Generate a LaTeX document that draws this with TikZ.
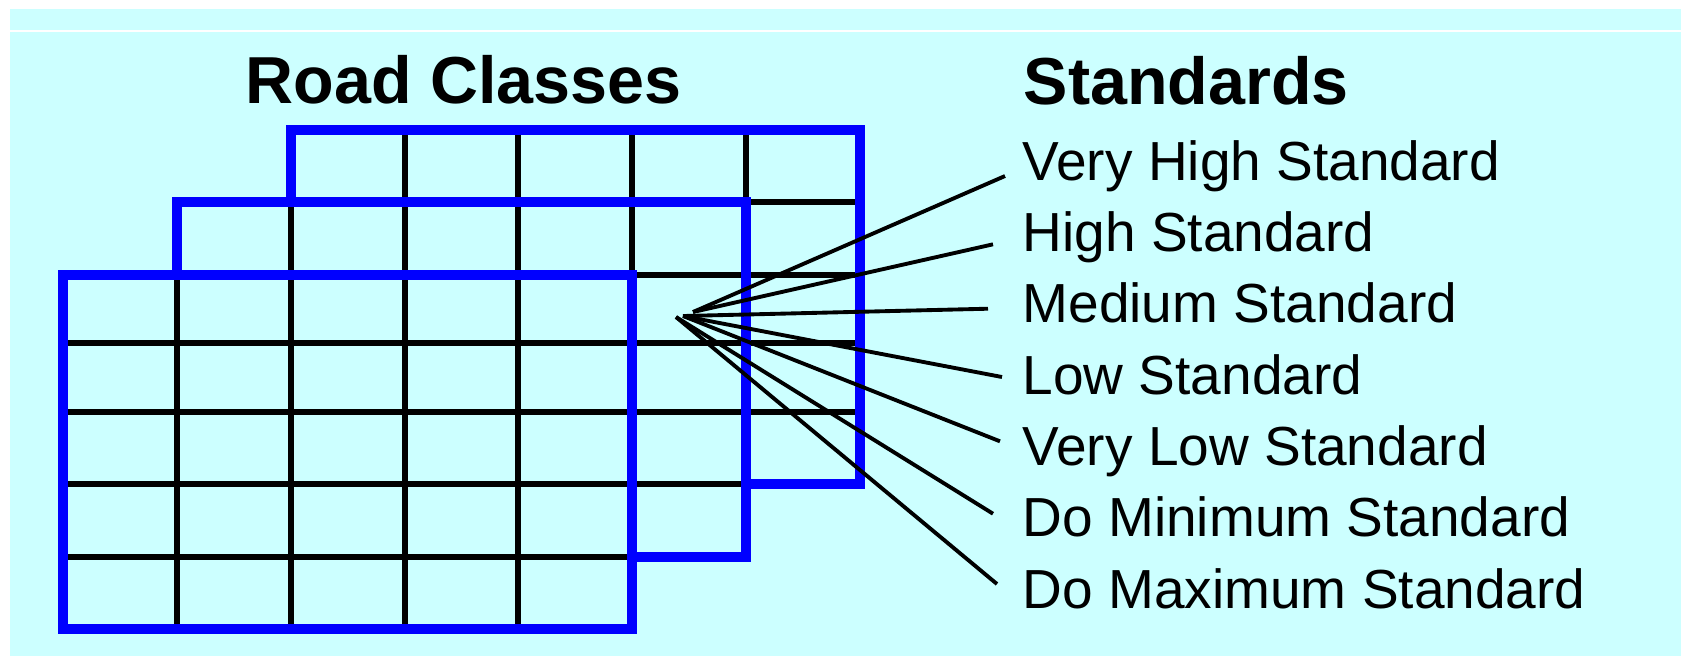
\documentclass[tikz,border=0pt]{standalone}
\usepackage{fontspec}
\setmainfont{Liberation Sans}
\definecolor{SheetCyan}{RGB}{204,255,255}
\definecolor{EdgeBlue} {RGB}{0,  0,  255}

\begin{document}
\begin{tikzpicture}[
  x=0.01cm, y=-0.01cm,
  heading/.style={
    anchor=base west, inner sep=0pt,
    font=\fontsize{18.9}{22}\selectfont\bfseries},
  stdtext/.style={
    anchor=base west, inner sep=0pt,
    font=\fontsize{15.65}{18}\selectfont},
  cellfill/.style={fill=SheetCyan},
  cellline/.style={
    line width=1.85pt, color=black},
  sheetedge/.style={
    draw=EdgeBlue, line width=2.85pt},
  fan/.style={
    line width=1.1pt, color=black}
]

\useasboundingbox (0,0) rectangle (1681,656);
\fill[white] (0,0) rectangle (1681,656);
\fill[SheetCyan] (10,9) rectangle (1681,656);
\draw[white, line width=0.5pt] (10,31) -- (1681,31);

\node[heading] (roads) at (245,103) {Road Classes};
\node[heading] (stds) at (1023,104) {Standards};

\foreach \sx/\sy/\ex/\ey in
  {291/129.5/860/484, 177/202/746/557, 63/275/632/629} {
  \fill[cellfill] (\sx,\sy) rectangle (\ex,\ey);
  \begin{scope}
    \clip (\sx,\sy) rectangle (\ex,\ey);
    \foreach \cx in {177,291,405,518,632,746}
      \draw[cellline] (\cx,0) -- (\cx,656);
    \foreach \cy in {202,275,343,412,484,557}
      \draw[cellline] (0,\cy) -- (1681,\cy);
  \end{scope}
  \draw[sheetedge] (\sx,\sy) rectangle (\ex,\ey);
}

\coordinate (hubA) at (693,312);
\coordinate (hubB) at (683,316);
\coordinate (hubC) at (676,317);

\node[stdtext] (vhigh) at (1022,180) {Very High Standard};
\node[stdtext] (high) at (1022,251.3) {High Standard};
\node[stdtext] (medium) at (1022,322.7) {Medium Standard};
\node[stdtext] (low) at (1022,394) {Low Standard};
\node[stdtext] (vlow) at (1022,465.3) {Very Low Standard};
\node[stdtext] (domin) at (1022,536.7) {Do Minimum Standard};
\node[stdtext] (domax) at (1022,608) {Do Maximum Standard};

\draw[fan] (hubA) -- ([shift={(-17,-4)}]vhigh.base west);
\draw[fan] (hubA) -- ([shift={(-29,-7)}]high.base west);
\draw[fan] (hubB) -- ([shift={(-34,-14)}]medium.base west);
\draw[fan] (hubB) -- ([shift={(-20,-17)}]low.base west);
\draw[fan] (hubB) -- ([shift={(-22,-24)}]vlow.base west);
\draw[fan] (hubC) -- ([shift={(-29,-23)}]domin.base west);
\draw[fan] (hubC) -- ([shift={(-25,-24)}]domax.base west);

\end{tikzpicture}
\end{document}
